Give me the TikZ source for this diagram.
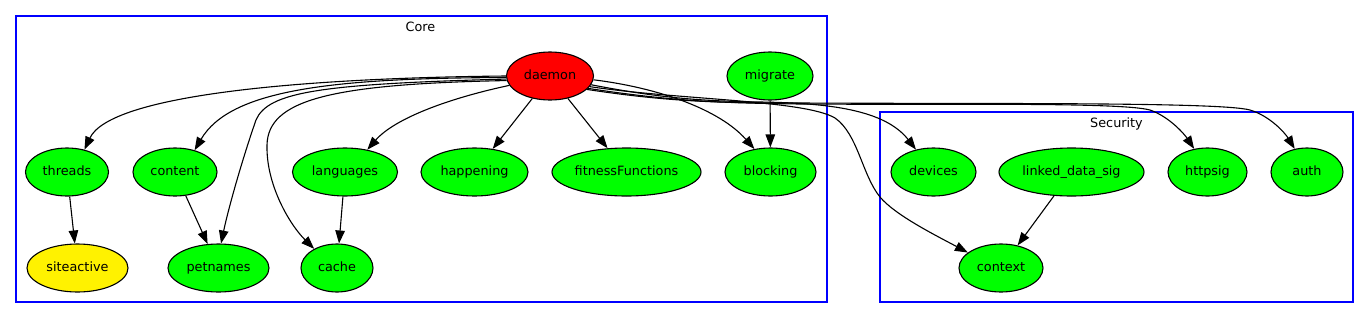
\documentclass[tikz,border=0pt]{standalone}
\usepackage{fontspec}
\setmainfont{DejaVu Sans}
\usetikzlibrary{shapes.geometric,arrows.meta}
\begin{document}
\begin{tikzpicture}[x=1pt,y=-1pt,
  nd/.style={ellipse,draw=black,line width=1.1pt,minimum height=48pt,inner sep=0pt,
    font=\fontsize{12.8}{14}\selectfont,text height=10pt,text depth=2.5pt},
  grn/.style={nd,fill=green},
  edge/.style={line width=1.1pt,-{Triangle[length=13pt,width=9.5pt]}},
  clus/.style={draw=blue,line width=1.1pt},
  clab/.style={font=\fontsize{12.8}{14}\selectfont,text height=10pt,text depth=2.5pt,inner sep=0pt}]
\useasboundingbox (0,0) rectangle (1369,319);
% clusters
\draw[clus] (16,16) rectangle (827,302);
\node[clab] (corelabel) at (420.5,28) {Core};
\draw[clus] (880,112) rectangle (1353,302);
\node[clab] (seclabel) at (1116.5,123.5) {Security};
% nodes
\node[nd,fill=red,minimum width=87pt] (daemon) at (550,76) {daemon};
\node[grn,minimum width=86pt] (migrate) at (770,76) {migrate};
\node[grn,minimum width=83pt] (threads) at (67,172) {threads};
\node[grn,minimum width=84pt] (content) at (175,172) {content};
\node[grn,minimum width=105pt] (languages) at (345,172) {languages};
\node[grn,minimum width=107pt] (happening) at (474.5,172) {happening};
\node[grn,minimum width=149pt] (fitness) at (626.5,172) {fitnessFunctions};
\node[grn,minimum width=91pt] (blocking) at (770.5,172) {blocking};
\node[grn,minimum width=85pt] (devices) at (933.5,172) {devices};
\node[grn,minimum width=145pt] (lds) at (1071.5,172) {linked\_data\_sig};
\node[grn,minimum width=79pt] (httpsig) at (1207.5,172) {httpsig};
\node[grn,minimum width=72pt] (auth) at (1307,172) {auth};
\node[nd,fill=yellow,minimum width=101pt] (siteactive) at (77.5,268) {siteactive};
\node[grn,minimum width=101pt] (petnames) at (218.5,268) {petnames};
\node[grn,minimum width=72pt] (cache) at (337,268) {cache};
\node[grn,minimum width=84pt] (context) at (1001,268) {context};
% edges
\draw[edge] (daemon.180) .. controls (300,78) and (110,95) .. (threads.52);
\draw[edge] (daemon.182) .. controls (330,78) and (230,90) .. (content.48);
\draw[edge] (daemon.184) .. controls (320,84) and (268,92) .. (256,120)
  .. controls (242,160) and (228,210) .. (petnames.84);
\draw[edge] (daemon.186) .. controls (330,84) and (268,100) .. (267,145)
  .. controls (266,185) and (290,225) .. (cache.140);
\draw[edge] (daemon.193) .. controls (450,98) and (395,118) .. (languages.45);
\draw[edge] (daemon) -- (happening);
\draw[edge] (daemon) -- (fitness);
\draw[edge] (daemon.355) .. controls (660,88) and (720,110) .. (blocking.125);
\draw[edge] (migrate) -- (blocking);
\draw[edge] (daemon.348) .. controls (660,98) and (700,101) .. (760,102)
  .. controls (830,103) and (885,110) .. (devices.128);
\draw[edge] (daemon.345) .. controls (680,100) and (805,100) .. (835,118)
  .. controls (858,134) and (862,175) .. (880,197)
  .. controls (895,215) and (935,235) .. (context.155);
\draw[edge] (daemon.342) .. controls (670,101) and (720,103) .. (800,104)
  .. controls (950,105) and (1120,102) .. (1150,110)
  .. controls (1170,117) and (1185,135) .. (httpsig.120);
\draw[edge] (daemon.340) .. controls (670,102) and (720,103) .. (800,103)
  .. controls (1000,104) and (1220,102) .. (1250,110)
  .. controls (1270,116) and (1285,133) .. (auth.118);
\draw[edge] (threads) -- (siteactive);
\draw[edge] (content) -- (petnames);
\draw[edge] (languages) -- (cache);
\draw[edge] (lds) -- (context);
\end{tikzpicture}
\end{document}
